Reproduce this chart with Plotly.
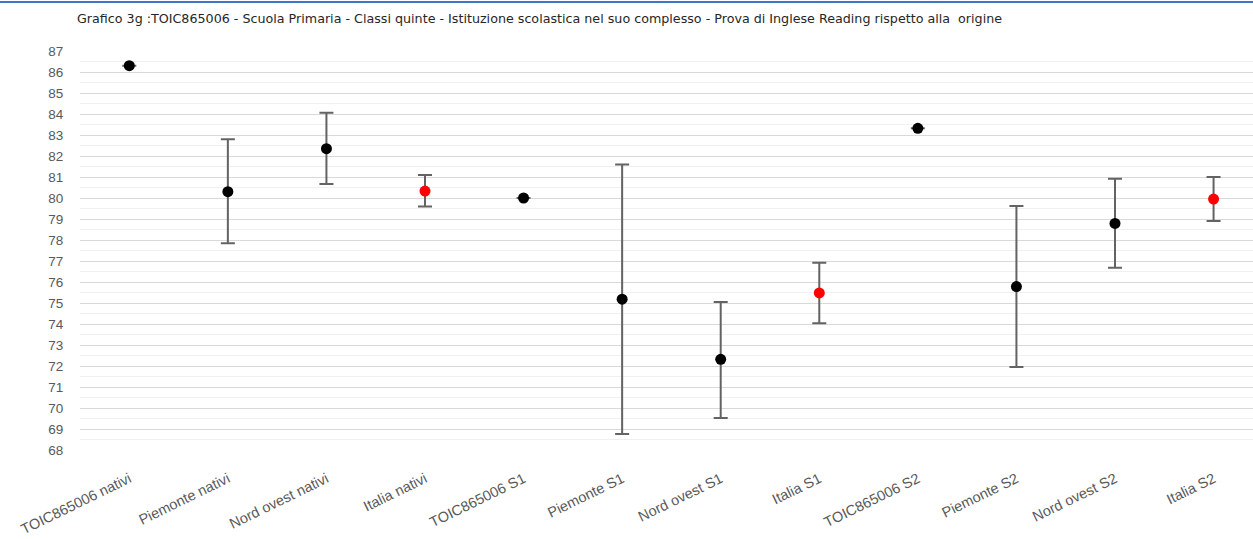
import plotly.graph_objects as go

categories = ["TOIC865006 nativi", "Piemonte nativi", "Nord ovest nativi", "Italia nativi",
              "TOIC865006 S1", "Piemonte S1", "Nord ovest S1", "Italia S1",
              "TOIC865006 S2", "Piemonte S2", "Nord ovest S2", "Italia S2"]
means = [86.3, 80.3, 82.35, 80.33, 80.0, 75.18, 72.32, 75.48, 83.32, 75.78, 78.79, 79.95]
upper = [86.3, 82.8, 84.06, 81.1, 80.0, 81.59, 75.05, 76.92, 83.32, 79.62, 80.92, 81.0]
lower = [86.3, 77.84, 80.67, 79.59, 80.0, 68.76, 69.52, 74.03, 83.32, 71.95, 76.68, 78.9]
is_italia = [c.startswith("Italia") for c in categories]

title = "Grafico 3g :TOIC865006 - Scuola Primaria - Classi quinte - Istituzione scolastica nel suo complesso - Prova di Inglese Reading rispetto alla  origine"

err_plus = [u - m for u, m in zip(upper, means)]
err_minus = [m - l for m, l in zip(means, lower)]
colors = ["#ff0000" if it else "#000000" for it in is_italia]

W, H = 1253, 539
ML, MR, MT, MB = 80, 0, 51, 89
plot_w = W - ML - MR
plot_h = H - MT - MB

fig = go.Figure()
fig.add_trace(go.Scatter(
    x=list(range(len(categories))), y=means, mode="markers",
    marker=dict(color=colors, size=11),
    error_y=dict(type="data", symmetric=False, array=err_plus, arrayminus=err_minus,
                 color="#636363", thickness=2, width=7),
    showlegend=False, hoverinfo="y"))

fig.add_shape(type="line", xref="paper", yref="paper",
              x0=-ML / plot_w, x1=1.0, y0=1 + 49 / plot_h, y1=1 + 49 / plot_h,
              line=dict(color="#4472C4", width=2))

fig.update_layout(
    width=W, height=H,
    margin=dict(l=ML, r=MR, t=MT, b=MB, autoexpand=False),
    paper_bgcolor="white", plot_bgcolor="white",
    font=dict(family="Liberation Sans, Arial, sans-serif", color="#595959"),
    title=dict(text=title, x=77 / W, xanchor="left", y=1 - 19 / H, yanchor="middle",
               font=dict(family="DejaVu Sans", size=12.7, color="#262626")),
    xaxis=dict(tickmode="array", tickvals=list(range(len(categories))), ticktext=categories,
               range=[-0.5, 11.4], tickangle=-26, showgrid=False, zeroline=False,
               showline=False, automargin=False,
               ticks="outside", ticklen=14, tickcolor="rgba(0,0,0,0)",
               tickfont=dict(size=14.5, color="#595959")),
    yaxis=dict(range=[68, 87], dtick=1, tick0=68, showgrid=True, gridcolor="#d9d9d9",
               gridwidth=1, zeroline=False, showline=False, automargin=False,
               ticks="outside", ticklen=13, tickcolor="rgba(0,0,0,0)",
               tickfont=dict(size=13.5, color="#595959"),
               minor=dict(dtick=0.5, showgrid=True, gridcolor="#f0f0f0", gridwidth=1)),
)

fig.write_html("out.html", config={"displayModeBar": False},
               post_script="document.body.style.margin='0px';document.body.style.padding='0px';")
